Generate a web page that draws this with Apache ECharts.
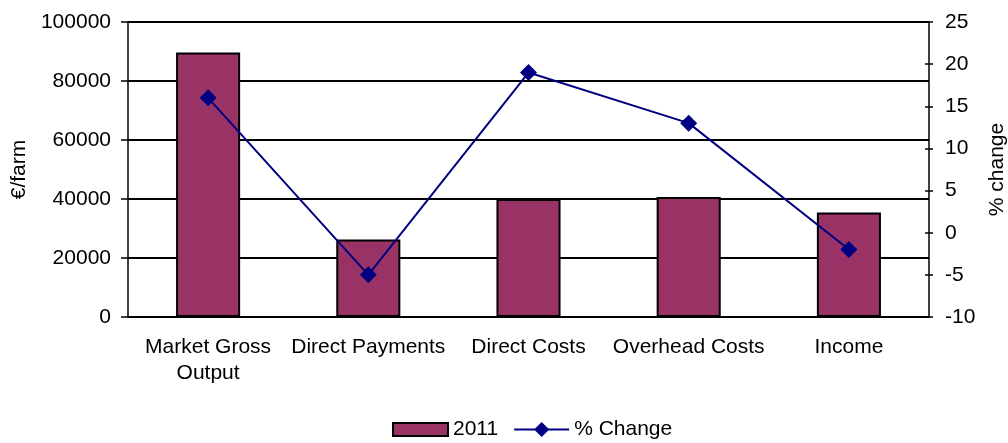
<!DOCTYPE html>
<html>
<head>
<meta charset="utf-8">
<script src="https://cdn.jsdelivr.net/npm/echarts@6/dist/echarts.min.js"></script>
<style>
  html, body { margin: 0; padding: 0; background: #fff; }
  #main { width: 1008px; height: 443px; }
</style>
</head>
<body>
<div id="main"></div>
<script>
var categories = ['Market Gross\nOutput', 'Direct Payments', 'Direct Costs', 'Overhead Costs', 'Income'];
var values2011 = [89700, 26300, 40000, 40700, 35400];
var pctChange = [16, -5, 19, 13, -2];

var font = 'Liberation Sans, Arial, sans-serif';
var fs = 21;
var myChart = echarts.init(document.getElementById('main'));

option = {
    animation: false,
    textStyle: { fontFamily: font, color: '#000' },
    grid: { left: 128, right: 79, top: 22, bottom: 126, outerBoundsMode: 'none', containLabel: false },
    legend: {
        bottom: -2,
        left: 387,
        itemWidth: 55,
        itemHeight: 19,
        itemGap: 15,
        symbolKeepAspect: true,
        textStyle: { fontFamily: font, fontSize: fs, color: '#000' },
        data: [{ name: '2011', icon: 'path://M0,0L55,0L55,13L0,13Z' }, { name: '% Change' }]
    },
    xAxis: {
        type: 'category',
        data: categories,
        axisLine: { lineStyle: { color: '#000', width: 1.5 } },
        axisTick: { alignWithLabel: false, length: 8, lineStyle: { color: '#000', width: 1.5 } },
        axisLabel: { color: '#000', fontSize: fs, lineHeight: 26, margin: 17, interval: 0 }
    },
    yAxis: [{
        type: 'value',
        min: 0,
        max: 100000,
        interval: 20000,
        name: '€/farm',
        nameLocation: 'middle',
        nameGap: 98,
        nameTextStyle: { fontSize: fs, color: '#000' },
        axisLine: { show: true, lineStyle: { color: '#000', width: 1.5 } },
        axisTick: { show: true, length: 7, lineStyle: { color: '#000', width: 1.5 } },
        axisLabel: { color: '#000', fontSize: fs, margin: 17, formatter: function (v) { return String(v); } },
        splitLine: { show: true, lineStyle: { color: '#000', width: 1.8 } }
    }, {
        type: 'value',
        position: 'right',
        min: -10,
        max: 25,
        interval: 5,
        name: '% change',
        nameLocation: 'middle',
        nameGap: 58,
        nameRotate: 90,
        nameTextStyle: { fontSize: fs, color: '#000' },
        axisLine: { show: true, lineStyle: { color: '#000', width: 1.5 } },
        axisTick: { show: true, length: 4, lineStyle: { color: '#000', width: 1.5 } },
        axisLabel: { color: '#000', fontSize: fs, margin: 16 },
        splitLine: { show: false }
    }, {
        // inner half of the crossing ticks on the right axis
        type: 'value',
        position: 'right',
        min: -10,
        max: 25,
        interval: 5,
        axisLine: { show: false },
        axisTick: { show: true, inside: true, length: 4, lineStyle: { color: '#000', width: 1.5 } },
        axisLabel: { show: false },
        splitLine: { show: false }
    }],
    series: [{
        name: '2011',
        type: 'bar',
        barWidth: '40%',
        yAxisIndex: 0,
        itemStyle: { color: '#993366', borderColor: '#000', borderWidth: 2 },
        data: values2011
    }, {
        name: '% Change',
        type: 'line',
        yAxisIndex: 1,
        symbol: 'diamond',
        symbolSize: 17,
        lineStyle: { color: '#000080', width: 2 },
        itemStyle: { color: '#000080' },
        data: pctChange
    }]
};

myChart.setOption(option);
</script>
</body>
</html>
